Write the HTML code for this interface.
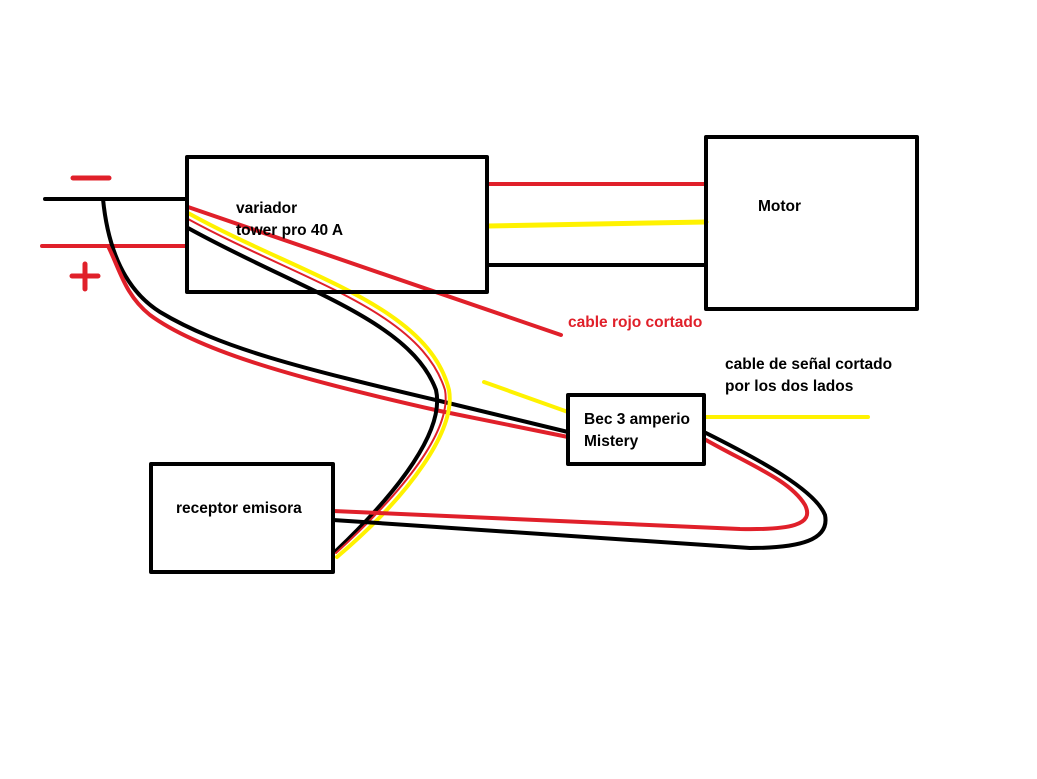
<!DOCTYPE html>
<html><head><meta charset="utf-8"><style>
body{margin:0;background:#fff;}
svg{display:block;}
text{font-family:"Liberation Sans","DejaVu Sans",sans-serif;font-weight:bold;font-size:15.5px;}
</style></head><body>
<svg width="1037" height="779" viewBox="0 0 1037 779" xmlns="http://www.w3.org/2000/svg">
<g fill="none" stroke-linecap="round" stroke-linejoin="round">
<path d="M45,199 L187,199" stroke="#000" stroke-width="4"/>
<path d="M42,246 L187,246" stroke="#e0202a" stroke-width="4"/>
<path d="M73,178 L109,178" stroke="#e0202a" stroke-width="5"/>
<path d="M72,276 L98,276 M85,264 L85,289" stroke="#e0202a" stroke-width="5"/>
<path d="M487,184 L706,184" stroke="#e0202a" stroke-width="4"/>
<path d="M488,226 L706,222" stroke="#fff200" stroke-width="5"/>
<path d="M487,265 L706,265" stroke="#000" stroke-width="4"/>
<path d="M188,207 L561,335" stroke="#e0202a" stroke-width="4"/>
<path d="M103,199 C108,250 125,290 160,312 C220,348 300,368 440,401 L568,432" stroke="#000" stroke-width="4"/>
<path d="M108,246 C120,270 125,295 150,315 C195,348 280,375 440,411 L568,437" stroke="#e0202a" stroke-width="4"/>
<path d="M188,228 C300,290 410,320 436,390 C445,430 400,490 336,551" stroke="#000" stroke-width="4"/>
<path d="M188,219 C300,280 420,310 445,390 C452,430 405,490 336,553" stroke="#e0202a" stroke-width="2"/>
<path d="M188,213 C300,275 428,305 449,390 C456,430 410,495 337,557" stroke="#fff200" stroke-width="4"/>
<path d="M484,382 L568,412" stroke="#fff200" stroke-width="4"/>
<path d="M704,417 L868,417" stroke="#fff200" stroke-width="4"/>
<path d="M706,440 C750,465 790,480 805,505 C815,525 790,530 740,529 L333,511" stroke="#e0202a" stroke-width="4"/>
<path d="M706,433 C760,460 815,490 825,515 C830,540 800,548 750,548 L333,520" stroke="#000" stroke-width="4"/>
<rect x="187" y="157" width="300" height="135" stroke="#000" stroke-width="4"/>
<rect x="706" y="137" width="211" height="172" stroke="#000" stroke-width="4"/>
<rect x="568" y="395" width="136" height="69" stroke="#000" stroke-width="4"/>
<rect x="151" y="464" width="182" height="108" stroke="#000" stroke-width="4"/>
</g>
<text x="236" y="213">variador</text>
<text x="236" y="235">tower pro 40 A</text>
<text x="758" y="211">Motor</text>
<text x="568" y="327" fill="#e0202a">cable rojo cortado</text>
<text x="725" y="369">cable de señal cortado</text>
<text x="725" y="391">por los dos lados</text>
<text x="584" y="424">Bec 3 amperio</text>
<text x="584" y="446">Mistery</text>
<text x="176" y="513">receptor emisora</text>
</svg>
</body></html>
